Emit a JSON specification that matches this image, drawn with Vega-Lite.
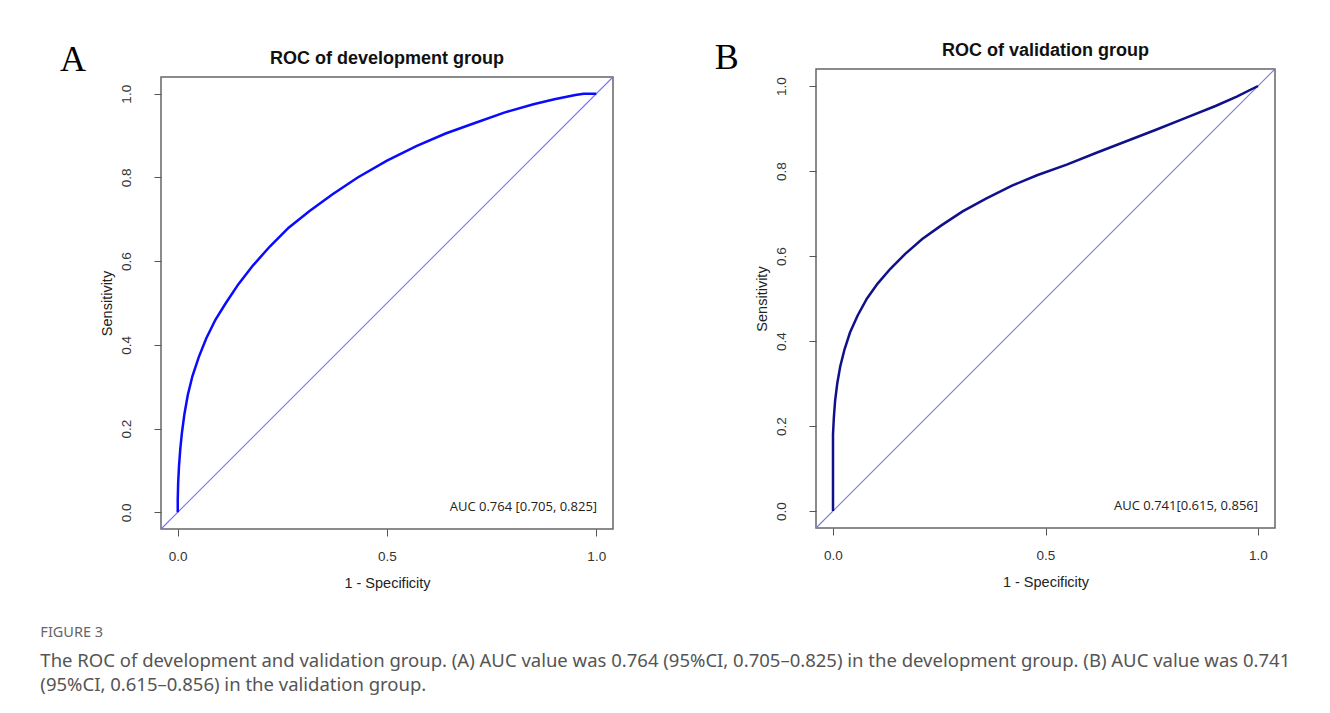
{
  "$schema": "https://vega.github.io/schema/vega-lite/v6.json",
  "background": "white",
  "padding": {"left": 40, "top": 38, "right": 5, "bottom": 5},
  "spacing": 97,
  "config": {
    "view": {"stroke": "#666666", "strokeWidth": 1.5},
    "axis": {"domain": false, "grid": false, "tickColor": "#555555", "tickSize": 7, "labelColor": "#333333", "labelFont": "Liberation Sans", "labelFontSize": 13.5, "titleFont": "Liberation Sans", "titleFontSize": 14.5, "titleFontWeight": "normal", "titleColor": "#222222"}
  },
  "datasets": {
    "rocA": [
      {"fpr": 0, "tpr": 0}, {"fpr": 0, "tpr": 0.03}, {"fpr": 0.001, "tpr": 0.07}, {"fpr": 0.003, "tpr": 0.11}, {"fpr": 0.006, "tpr": 0.15}, {"fpr": 0.01, "tpr": 0.19}, {"fpr": 0.016, "tpr": 0.235}, {"fpr": 0.024, "tpr": 0.28}, {"fpr": 0.035, "tpr": 0.325}, {"fpr": 0.05, "tpr": 0.37}, {"fpr": 0.068, "tpr": 0.415}, {"fpr": 0.09, "tpr": 0.46}, {"fpr": 0.115, "tpr": 0.5}, {"fpr": 0.145, "tpr": 0.545}, {"fpr": 0.18, "tpr": 0.59}, {"fpr": 0.22, "tpr": 0.635}, {"fpr": 0.265, "tpr": 0.68}, {"fpr": 0.315, "tpr": 0.72}, {"fpr": 0.37, "tpr": 0.76}, {"fpr": 0.43, "tpr": 0.8}, {"fpr": 0.5, "tpr": 0.84}, {"fpr": 0.57, "tpr": 0.875}, {"fpr": 0.64, "tpr": 0.905}, {"fpr": 0.71, "tpr": 0.93}, {"fpr": 0.78, "tpr": 0.955}, {"fpr": 0.85, "tpr": 0.975}, {"fpr": 0.9, "tpr": 0.987}, {"fpr": 0.95, "tpr": 0.997}, {"fpr": 0.97, "tpr": 1.0}, {"fpr": 1, "tpr": 1}
    ],
    "rocB": [
      {"fpr": 0, "tpr": 0}, {"fpr": 0, "tpr": 0.1}, {"fpr": 0, "tpr": 0.18}, {"fpr": 0.002, "tpr": 0.22}, {"fpr": 0.005, "tpr": 0.26}, {"fpr": 0.01, "tpr": 0.3}, {"fpr": 0.017, "tpr": 0.34}, {"fpr": 0.027, "tpr": 0.38}, {"fpr": 0.04, "tpr": 0.42}, {"fpr": 0.058, "tpr": 0.46}, {"fpr": 0.08, "tpr": 0.5}, {"fpr": 0.105, "tpr": 0.535}, {"fpr": 0.135, "tpr": 0.57}, {"fpr": 0.17, "tpr": 0.605}, {"fpr": 0.21, "tpr": 0.64}, {"fpr": 0.255, "tpr": 0.672}, {"fpr": 0.305, "tpr": 0.705}, {"fpr": 0.36, "tpr": 0.735}, {"fpr": 0.42, "tpr": 0.765}, {"fpr": 0.48, "tpr": 0.79}, {"fpr": 0.55, "tpr": 0.815}, {"fpr": 0.62, "tpr": 0.843}, {"fpr": 0.69, "tpr": 0.87}, {"fpr": 0.76, "tpr": 0.897}, {"fpr": 0.83, "tpr": 0.925}, {"fpr": 0.9, "tpr": 0.953}, {"fpr": 0.95, "tpr": 0.975}, {"fpr": 1, "tpr": 1}
    ],
    "diagA": [{"fpr": -0.04, "tpr": -0.04}, {"fpr": 1.04, "tpr": 1.04}],
    "diagB": [{"fpr": -0.04, "tpr": -0.04}, {"fpr": 1.04, "tpr": 1.04}]
  },
  "hconcat": [
    {
      "vconcat": [
        {"width": 1, "height": 1, "data": {"values": []}, "mark": {"type": "text"}, "encoding": {}, "view": {"stroke": null}},
        {
          "width": 452, "height": 452,
          "encoding": {
            "x": {"field": "fpr", "type": "quantitative", "scale": {"domain": [-0.04, 1.04], "nice": false, "zero": false}, "axis": {"values": [0, 0.5, 1], "format": ".1f", "title": "1 - Specificity", "labelPadding": 13, "titlePadding": 14}},
            "y": {"field": "tpr", "type": "quantitative", "scale": {"domain": [-0.04, 1.04], "nice": false, "zero": false}, "axis": {"values": [0, 0.2, 0.4, 0.6, 0.8, 1], "format": ".1f", "title": "Sensitivity", "labelAngle": -90, "labelAlign": "center", "labelBaseline": "bottom", "labelPadding": 21, "titlePadding": 5}}
          },
          "layer": [
            {"data": {"name": "diagA"}, "mark": {"type": "line", "stroke": "#7272ff", "strokeWidth": 1.1}},
            {"data": {"name": "rocA"}, "mark": {"type": "line", "stroke": "#0a0aff", "strokeWidth": 2.5}},
            {"data": {"values": [{"fpr": 1.002, "tpr": 0.012, "label": "AUC 0.764 [0.705, 0.825]"}]}, "mark": {"type": "text", "align": "right", "baseline": "middle", "font": "Open Sans", "fontSize": 13, "color": "#222222"}, "encoding": {"text": {"field": "label"}}},
            {"data": {"values": [{"fpr": 0.5, "tpr": 1.071, "label": "ROC of development group"}]}, "mark": {"type": "text", "align": "center", "baseline": "alphabetic", "font": "Liberation Sans", "fontSize": 18, "fontWeight": "bold", "color": "#111111"}, "encoding": {"text": {"field": "label"}}},
            {"data": {"values": [{"fpr": -0.25, "tpr": 1.054, "label": "A"}]}, "mark": {"type": "text", "align": "center", "baseline": "alphabetic", "font": "Liberation Serif", "fontSize": 36, "color": "#000000"}, "encoding": {"text": {"field": "label"}}}
          ]
        }
      ],
      "spacing": 7,
      "bounds": "flush"
    },
    {
      "width": 459, "height": 459,
      "encoding": {
        "x": {"field": "fpr", "type": "quantitative", "scale": {"domain": [-0.04, 1.04], "nice": false, "zero": false}, "axis": {"values": [0, 0.5, 1], "format": ".1f", "title": "1 - Specificity", "labelPadding": 13, "titlePadding": 14}},
        "y": {"field": "tpr", "type": "quantitative", "scale": {"domain": [-0.04, 1.04], "nice": false, "zero": false}, "axis": {"values": [0, 0.2, 0.4, 0.6, 0.8, 1], "format": ".1f", "title": "Sensitivity", "labelAngle": -90, "labelAlign": "center", "labelBaseline": "bottom", "labelPadding": 21, "titlePadding": 5}}
      },
      "layer": [
        {"data": {"name": "diagB"}, "mark": {"type": "line", "stroke": "#7a7ad6", "strokeWidth": 1.1}},
        {"data": {"name": "rocB"}, "mark": {"type": "line", "stroke": "#10108a", "strokeWidth": 2.5}},
        {"data": {"values": [{"fpr": 1.0, "tpr": 0.012, "label": "AUC 0.741[0.615, 0.856]"}]}, "mark": {"type": "text", "align": "right", "baseline": "middle", "font": "Open Sans", "fontSize": 13, "color": "#222222"}, "encoding": {"text": {"field": "label"}}},
        {"data": {"values": [{"fpr": 0.5, "tpr": 1.071, "label": "ROC of validation group"}]}, "mark": {"type": "text", "align": "center", "baseline": "alphabetic", "font": "Liberation Sans", "fontSize": 18, "fontWeight": "bold", "color": "#111111"}, "encoding": {"text": {"field": "label"}}},
        {"data": {"values": [{"fpr": -0.25, "tpr": 1.041, "label": "B"}]}, "mark": {"type": "text", "align": "center", "baseline": "alphabetic", "font": "Liberation Serif", "fontSize": 36, "color": "#000000"}, "encoding": {"text": {"field": "label"}}}
      ]
    }
  ],
  "title": {
    "text": "FIGURE 3",
    "subtitle": ["The ROC of development and validation group. (A) AUC value was 0.764 (95%CI, 0.705–0.825) in the development group. (B) AUC value was 0.741", "(95%CI, 0.615–0.856) in the validation group."],
    "orient": "bottom", "anchor": "start", "offset": 35, "dx": -19,
    "font": "Noto Sans", "fontSize": 14.5, "fontWeight": "normal", "color": "#666666",
    "subtitleFont": "Noto Sans", "subtitleFontSize": 18.5, "subtitleColor": "#555555", "subtitleLineHeight": 24, "subtitlePadding": 12
  }
}
